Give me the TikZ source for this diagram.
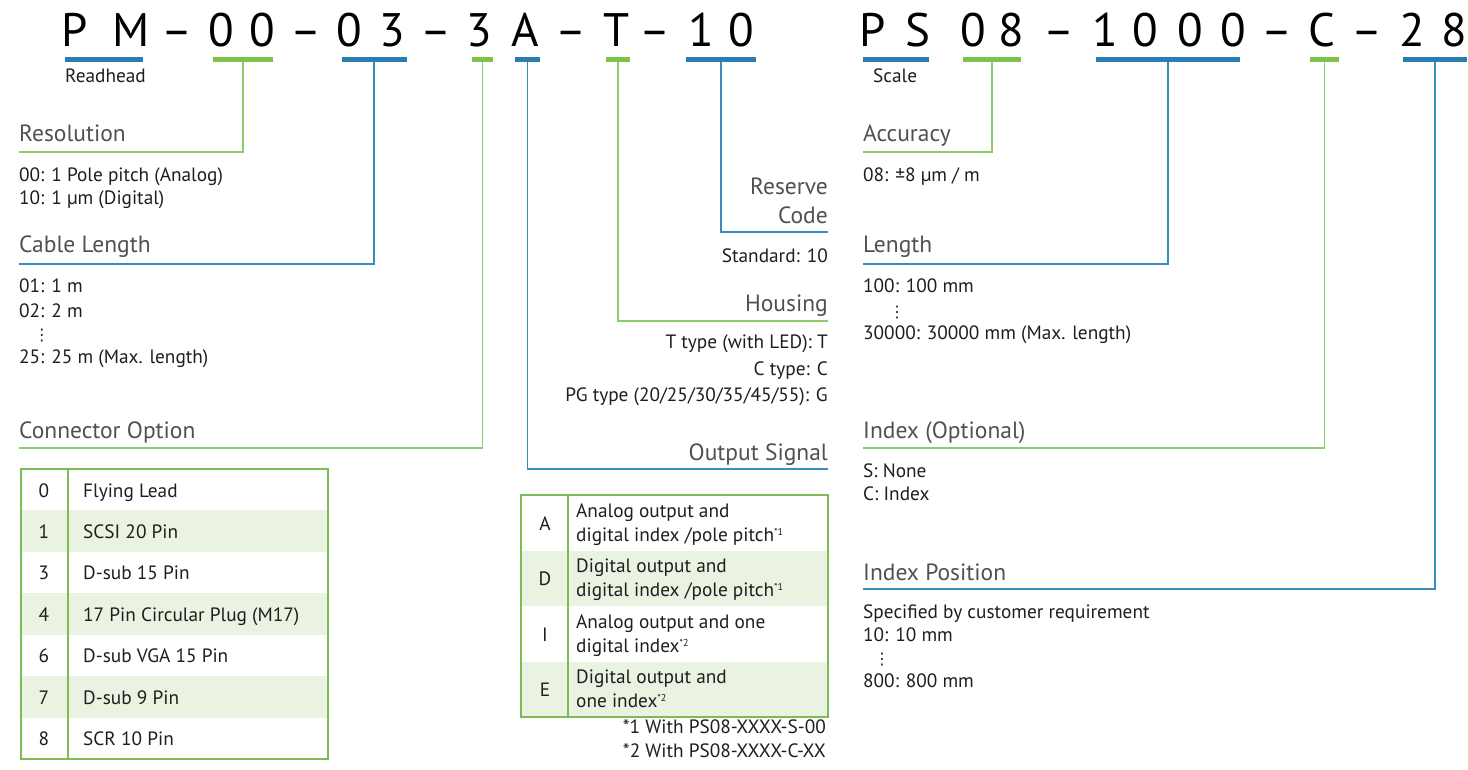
\documentclass[tikz,border=0pt]{standalone}
\usepackage{fontspec}
\setmainfont{PT Sans}
\newfontfamily\dotsfont{DejaVu Sans}

\definecolor{barblue}{HTML}{2A7DB0}
\definecolor{bargreen}{HTML}{7DC24B}
\definecolor{lineblue}{HTML}{3A8BC0}
\definecolor{linegreen}{HTML}{8ECB6B}
\definecolor{headgray}{HTML}{505050}
\definecolor{bodytxt}{HTML}{1E1E1E}
\definecolor{rowshade}{HTML}{EAF2E1}
\definecolor{tabline}{HTML}{7DBB55}

\newcommand{\fnmark}[1]{\raisebox{6pt}{\fontsize{10}{10}\selectfont #1}}

\tikzset{
  code/.style={anchor=base,inner sep=0,font=\fontsize{47}{47}\selectfont},
  bbar/.style={fill=barblue,inner sep=0,outer sep=0,minimum height=5},
  gbar/.style={fill=bargreen,inner sep=0,outer sep=0,minimum height=5},
  bline/.style={draw=lineblue,line width=1.5},
  gline/.style={draw=linegreen,line width=1.8},
  headl/.style={anchor=base west,inner sep=0,text=headgray,font=\fontsize{23.5}{26}\selectfont},
  headr/.style={headl,anchor=base east},
  bodyl/.style={anchor=base west,inner sep=0,text=bodytxt,font=\fontsize{19.3}{22}\selectfont},
  bodyr/.style={bodyl,anchor=base east},
  bodyc/.style={bodyl,anchor=base},
  vdot/.style={anchor=base,inner sep=0,text=bodytxt,font=\dotsfont\fontsize{16}{16}\selectfont},
  tab/.style={draw=tabline,line width=1.4}
}

\begin{document}
\begin{tikzpicture}[x=1pt,y=-1pt]
	\useasboundingbox (0,0) rectangle (1468,770);
	% readhead and scale codes
	\foreach \x/\c [count=\i] in {75/P,131/M,177/--,221/0,262/0,306/--,349/0,392/3,436/--,479/3,525/A,571/--,617/T,655/--,701/1,741/0}
		\node[code] (pm\i) at (\x,47) {\c};
	\foreach \x/\c [count=\i] in {873/P,918/S,973/0,1011/8,1059/--,1105/1,1145/0,1190/0,1233/0,1277/--,1322/C,1367/--,1412/2,1454/8}
		\node[code] (ps\i) at (\x,47) {\c};

	\node[bbar,minimum width=78] (bPM) at (104,59.5) {};
	\node[gbar,minimum width=60] (bRes) at (243,59.5) {};
	\node[bbar,minimum width=65] (bCab) at (374,59.5) {};
	\node[gbar,minimum width=21] (bCon) at (482.5,59.5) {};
	\node[bbar,minimum width=25] (bOut) at (527.5,59.5) {};
	\node[gbar,minimum width=24] (bHou) at (618,59.5) {};
	\node[bbar,minimum width=70] (bRsv) at (721,59.5) {};
	\node[bbar,minimum width=66] (bPS) at (896,59.5) {};
	\node[gbar,minimum width=58] (bAcc) at (992,59.5) {};
	\node[bbar,minimum width=144] (bLen) at (1168,59.5) {};
	\node[gbar,minimum width=29] (bIdx) at (1324.5,59.5) {};
	\node[bbar,minimum width=64] (bPos) at (1435,59.5) {};

	\node[bodyl] (lRead) at (65,83) {Readhead};
	\node[bodyl] (lScale) at (873,83) {Scale};

	% left column
	\node[headl] (hRes) at (19,142) {Resolution};
	\coordinate (uRes) at (19,152);
	\draw[gline] (bRes.south) |- (uRes);
	\node[bodyl] (tRes1) at (19,182) {00: 1 Pole pitch (Analog)};
	\node[bodyl] (tRes2) at (19,205) {10: 1 µm (Digital)};

	\node[headl] (hCab) at (19,253) {Cable Length};
	\coordinate (uCab) at (19,264);
	\draw[bline] (bCab.south) |- (uCab);
	\node[bodyl] (tCab1) at (19,293) {01: 1 m};
	\node[bodyl] (tCab2) at (19,317) {02: 2 m};
	\node[vdot] (tCab3) at (42,341) {⋮};
	\node[bodyl] (tCab4) at (19,363) {25: 25 m (Max. length)};

	\node[headl] (hCon) at (19,438) {Connector Option};
	\coordinate (uCon) at (19,448);
	\draw[gline] (bCon.south) |- (uCon);
	\foreach \n/\t [count=\i from 0] in {0/Flying Lead,1/SCSI 20 Pin,3/D-sub 15 Pin,4/17 Pin Circular Plug (M17),6/D-sub VGA 15 Pin,7/D-sub 9 Pin,8/SCR 10 Pin}{
		\ifodd\i \fill[rowshade] (21,469+41.43*\i) rectangle (328,469+41.43*\i+41.43); \fi
		\node[bodyc] (cn\i) at (44,469+41.43*\i+28) {\n};
		\node[bodyl] (ct\i) at (83,469+41.43*\i+28) {\t};
	}
	\draw[tab] (21,469) rectangle (328,759);
	\draw[tab] (68,469) -- (68,759);

	% middle column
	\node[headr] (hRsv1) at (828,195) {Reserve};
	\node[headr] (hRsv2) at (828,224) {Code};
	\coordinate (uRsv) at (828,232);
	\draw[bline] (bRsv.south) |- (uRsv);
	\node[bodyr] (tRsv) at (828,262) {Standard: 10};

	\node[headr] (hHou) at (828,312) {Housing};
	\coordinate (uHou) at (828,321);
	\draw[gline] (bHou.south) |- (uHou);
	\node[bodyr] (tHou1) at (828,348) {T type (with LED): T};
	\node[bodyr] (tHou2) at (828,375) {C type: C};
	\node[bodyr] (tHou3) at (828,401) {PG type (20/25/30/35/45/55): G};

	\node[headr] (hOut) at (828,460) {Output Signal};
	\coordinate (uOut) at (828,469);
	\draw[bline] (bOut.south) |- (uOut);
	\fill[rowshade] (521,550.5) rectangle (828,606);
	\fill[rowshade] (521,661.5) rectangle (828,717);
	\node[bodyc] (on1) at (545,530) {A};
	\node[bodyl] (ot1a) at (576,517) {Analog output and};
	\node[bodyl] (ot1b) at (576,541) {digital index /pole pitch\fnmark{*1}};
	\node[bodyc] (on2) at (545,585.5) {D};
	\node[bodyl] (ot2a) at (576,572.5) {Digital output and};
	\node[bodyl] (ot2b) at (576,596.5) {digital index /pole pitch\fnmark{*1}};
	\node[bodyc] (on3) at (545,641) {I};
	\node[bodyl] (ot3a) at (576,628) {Analog output and one};
	\node[bodyl] (ot3b) at (576,652) {digital index\fnmark{*2}};
	\node[bodyc] (on4) at (545,696.5) {E};
	\node[bodyl] (ot4a) at (576,683.5) {Digital output and};
	\node[bodyl] (ot4b) at (576,707.5) {one index\fnmark{*2}};
	\draw[tab] (521,495) rectangle (828,717);
	\draw[tab] (568,495) -- (568,717);
	\node[bodyr] (fn1) at (826,733) {*1 With PS08-XXXX-S-00};
	\node[bodyr] (fn2) at (826,757) {*2 With PS08-XXXX-C-XX};

	% right column
	\node[headl] (hAcc) at (863,142) {Accuracy};
	\coordinate (uAcc) at (863,152);
	\draw[gline] (bAcc.south) |- (uAcc);
	\node[bodyl] (tAcc) at (863,182) {08: ±8 µm / m};

	\node[headl] (hLen) at (863,253) {Length};
	\coordinate (uLen) at (863,264);
	\draw[bline] (bLen.south) |- (uLen);
	\node[bodyl] (tLen1) at (863,293) {100: 100 mm};
	\node[vdot] (tLen2) at (897,317) {⋮};
	\node[bodyl] (tLen3) at (863,339) {30000: 30000 mm (Max. length)};

	\node[headl] (hIdx) at (863,438) {Index (Optional)};
	\coordinate (uIdx) at (863,448);
	\draw[gline] (bIdx.south) |- (uIdx);
	\node[bodyl] (tIdx1) at (863,477) {S: None};
	\node[bodyl] (tIdx2) at (863,500) {C: Index};

	\node[headl] (hPos) at (863,580) {Index Position};
	\coordinate (uPos) at (863,589);
	\draw[bline] (bPos.south) |- (uPos);
	\node[bodyl] (tPos1) at (863,618) {Specified by customer requirement};
	\node[bodyl] (tPos2) at (863,641) {10: 10 mm};
	\node[vdot] (tPos3) at (882,664) {⋮};
	\node[bodyl] (tPos4) at (863,687) {800: 800 mm};
\end{tikzpicture}
\end{document}
